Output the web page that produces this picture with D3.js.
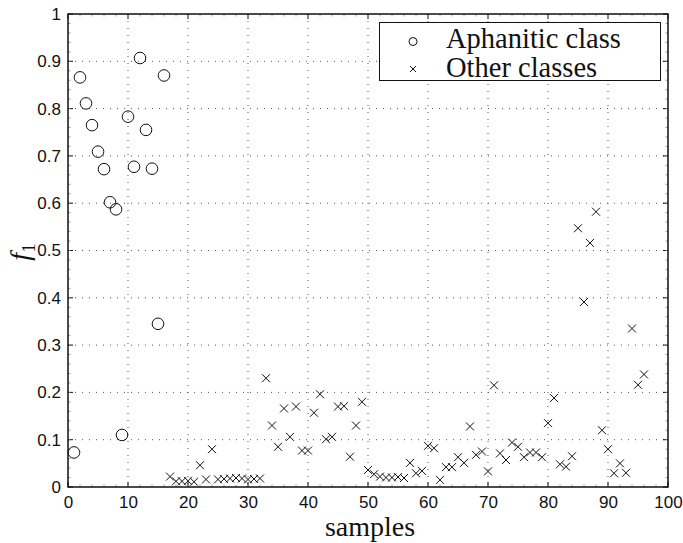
<!DOCTYPE html>
<html><head><meta charset="utf-8">
<script src="https://cdn.jsdelivr.net/npm/d3@7"></script>
<style>body{margin:0;background:#fff}svg{display:block}</style>
</head><body>
<script>
const aphX = [1,2,3,4,5,6,7,8,9,10,11,12,13,14,15,16];
const aphY = [0.073,0.866,0.811,0.765,0.709,0.672,0.602,0.587,0.110,0.783,0.677,0.907,0.755,0.673,0.345,0.870];
const othX = [];
for (let i = 17; i <= 96; i++) othX.push(i);
const othY = [
 0.022,0.012,0.012,0.013,0.011,0.046,0.016,0.080,
 0.016,0.017,0.018,0.019,0.018,0.016,0.017,0.018,
 0.230,0.130,0.085,0.166,0.106,0.170,0.077,0.077,0.157,0.196,0.101,0.106,0.170,0.171,0.064,0.130,0.180,
 0.036,0.027,0.022,0.020,0.020,0.021,0.019,0.051,0.029,0.034,0.087,0.082,0.015,0.042,0.042,
 0.063,0.051,0.128,0.068,0.075,0.033,0.215,0.071,0.057,0.094,0.085,0.063,0.073,0.073,0.063,0.135,0.188,
 0.048,0.043,0.065,0.547,0.391,0.516,0.582,0.120,0.080,0.029,0.050,0.030,0.335,0.216,0.238
];
const xTicks = [0,10,20,30,40,50,60,70,80,90,100];
const yTicks = [0,0.1,0.2,0.3,0.4,0.5,0.6,0.7,0.8,0.9,1];
const legendLabels = ["Aphanitic class","Other classes"];

const W = 683, H = 543;
const L = 68, R = 668, T = 14, B = 487;
const svg = d3.select("body").append("svg").attr("width", W).attr("height", H);
const x = d3.scaleLinear().domain([0,100]).range([L,R]);
const y = d3.scaleLinear().domain([0,1]).range([B,T]);

// grid
const g = svg.append("g");
g.selectAll(".vg").data(xTicks.slice(1,-1)).enter().append("line")
  .attr("x1", d=>x(d)).attr("x2", d=>x(d)).attr("y1", T).attr("y2", B)
  .attr("stroke", "#555").attr("stroke-width", 1).attr("stroke-dasharray", "1,6");
g.selectAll(".hg").data(yTicks.slice(1,-1)).enter().append("line")
  .attr("y1", d=>y(d)).attr("y2", d=>y(d)).attr("x1", L).attr("x2", R)
  .attr("stroke", "#555").attr("stroke-width", 1).attr("stroke-dasharray", "1,6");

// axes
const fmt = d => d3.format("")(d);
const xa = svg.append("g").attr("transform", `translate(0,${B})`)
  .call(d3.axisBottom(x).tickValues(xTicks).tickSize(0).tickPadding(9).tickFormat(fmt));
const ya = svg.append("g").attr("transform", `translate(${L},0)`)
  .call(d3.axisLeft(y).tickValues(yTicks).tickSize(0).tickPadding(7).tickFormat(fmt));
[xa, ya].forEach(a => {
  a.select(".domain").remove();
  a.selectAll("text").attr("font-family", "Liberation Sans, Arial, sans-serif").attr("font-size", 17).attr("fill", "#111");
});

// major ticks (inward, all four sides)
const tk = svg.append("g").attr("stroke", "#111").attr("stroke-width", 1);
xTicks.forEach(d => {
  tk.append("line").attr("x1", x(d)).attr("x2", x(d)).attr("y1", B).attr("y2", B-5);
  tk.append("line").attr("x1", x(d)).attr("x2", x(d)).attr("y1", T).attr("y2", T+5);
});
yTicks.forEach(d => {
  tk.append("line").attr("y1", y(d)).attr("y2", y(d)).attr("x1", L).attr("x2", L+5);
  tk.append("line").attr("y1", y(d)).attr("y2", y(d)).attr("x1", R).attr("x2", R-5);
});
// minor ticks
const mk = svg.append("g").attr("stroke", "#888").attr("stroke-width", 0.8);
d3.range(0, 101, 2).forEach(d => {
  mk.append("line").attr("x1", x(d)).attr("x2", x(d)).attr("y1", B).attr("y2", B-2.5);
  mk.append("line").attr("x1", x(d)).attr("x2", x(d)).attr("y1", T).attr("y2", T+2.5);
});
d3.range(0, 51).forEach(i => {
  const d = i/50;
  mk.append("line").attr("y1", y(d)).attr("y2", y(d)).attr("x1", L).attr("x2", L+2.5);
  mk.append("line").attr("y1", y(d)).attr("y2", y(d)).attr("x1", R).attr("x2", R-2.5);
});

// frame
svg.append("rect").attr("x", L).attr("y", T).attr("width", R-L).attr("height", B-T)
  .attr("fill", "none").attr("stroke", "#111").attr("stroke-width", 1.5);

// data: circles
svg.append("g").selectAll("circle").data(aphX.map((d,i)=>[d,aphY[i]])).enter().append("circle")
  .attr("cx", d=>x(d[0])).attr("cy", d=>y(d[1])).attr("r", 5.8)
  .attr("fill", "none").attr("stroke", "#111").attr("stroke-width", 1);

// data: crosses
const cs = 4;
const cr = svg.append("g").attr("stroke", "#111").attr("stroke-width", 1);
othX.forEach((d,i) => {
  const cx = x(d), cy = y(othY[i]);
  cr.append("path").attr("d", `M${cx-cs},${cy-cs}L${cx+cs},${cy+cs}M${cx-cs},${cy+cs}L${cx+cs},${cy-cs}`);
});

// legend
const lg = svg.append("g");
lg.append("rect").attr("x", 379.5).attr("y", 22.5).attr("width", 281).attr("height", 58)
  .attr("fill", "#fff").attr("stroke", "#111").attr("stroke-width", 1);
lg.append("circle").attr("cx", 413).attr("cy", 41.5).attr("r", 4)
  .attr("fill", "none").attr("stroke", "#111").attr("stroke-width", 1);
lg.append("path").attr("d", "M410,66L416,72M410,72L416,66").attr("stroke", "#111").attr("stroke-width", 1);
lg.selectAll("text").data(legendLabels).enter().append("text")
  .attr("x", 446).attr("y", (d,i)=>47.5 + i*29.5)
  .attr("font-family", "Liberation Serif, Times New Roman, serif").attr("font-size", 28.5)
  .attr("fill", "#111").text(d=>d);

// axis labels
svg.append("text").attr("x", (L+R)/2 + 2).attr("y", 536).attr("text-anchor", "middle")
  .attr("font-family", "Liberation Serif, Times New Roman, serif").attr("font-size", 28)
  .attr("fill", "#111").text("samples");
const yl = svg.append("text").attr("transform", "translate(29,252) rotate(-90)")
  .attr("text-anchor", "middle")
  .attr("font-family", "Liberation Serif, Times New Roman, serif").attr("fill", "#111");
yl.append("tspan").attr("font-style", "italic").attr("font-size", 28).text("f");
yl.append("tspan").attr("font-size", 19).attr("dy", 6).text("1");
</script>
</body></html>
